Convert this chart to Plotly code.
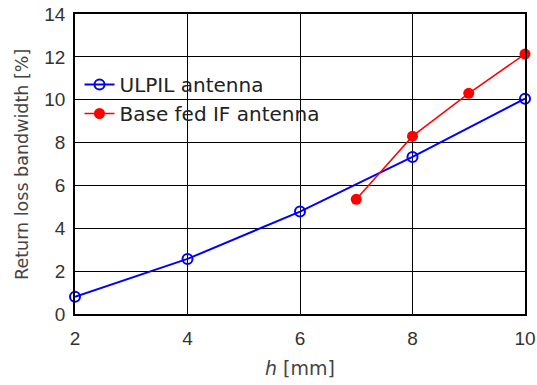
import plotly.graph_objects as go

h_ulpil = [2, 4, 6, 8, 10]
bw_ulpil = [0.8, 2.57, 4.78, 7.33, 10.05]
h_base = [7, 8, 9, 10]
bw_base = [5.35, 8.3, 10.3, 12.13]
x_ticks = [2, 4, 6, 8, 10]
y_ticks = [0, 2, 4, 6, 8, 10, 12, 14]

TICKFONT = "Liberation Sans, Arial, sans-serif"
TEXTFONT = "DejaVu Sans, sans-serif"

fig = go.Figure()
fig.add_trace(go.Scatter(
    x=h_ulpil, y=bw_ulpil, mode="lines+markers", name="ULPIL antenna",
    legendgroup="a",
    line=dict(color="#0000ff", width=2),
    marker=dict(symbol="circle-open", size=10, color="#0000ff", line=dict(width=2)),
))
fig.add_trace(go.Scatter(
    x=h_base, y=bw_base, mode="lines+markers", name="Base fed IF antenna",
    legendgroup="b",
    line=dict(color="#ff0000", width=1.5),
    marker=dict(symbol="circle", size=11, color="#ff0000"),
))

axis_common = dict(
    showgrid=True, gridcolor="black", gridwidth=1,
    showline=True, linecolor="black", linewidth=1.5, mirror=True,
    zeroline=False, ticks="", automargin=False, ticklabeloverflow="allow",
    tickfont=dict(family=TICKFONT, size=19, color="#333333"),
)

fig.update_layout(
    width=537, height=385,
    margin=dict(l=75, r=12, t=14, b=71),
    paper_bgcolor="white", plot_bgcolor="white",
    font=dict(family=TEXTFONT, color="#222222", size=18),
    legend=dict(x=0.01, y=0.83, xanchor="left", yanchor="top",
                bgcolor="rgba(0,0,0,0)", font=dict(family=TEXTFONT, size=20, color="#222222"),
                traceorder="grouped", tracegroupgap=0, itemwidth=30),
    xaxis=dict(range=[2, 10], tickvals=x_ticks, ticklabelstandoff=6, **axis_common),
    yaxis=dict(range=[0, 14], tickvals=y_ticks, ticklabelstandoff=4, **axis_common),
    annotations=[
        dict(text="<i>h</i> [mm]", xref="paper", yref="paper", x=0.5, y=-0.18,
             xanchor="center", yanchor="middle", showarrow=False,
             font=dict(family=TEXTFONT, size=19, color="#444444")),
        dict(text="Return loss bandwidth [%]", xref="paper", yref="paper",
             x=-0.118, y=0.5, xanchor="center", yanchor="middle", textangle=-90,
             showarrow=False, font=dict(family=TEXTFONT, size=17.5, color="#444444")),
    ],
)
fig.update_traces(cliponaxis=False)
fig.write_html(
    "out.html",
    config={"displayModeBar": False},
    post_script="document.body.style.margin='0';document.body.style.overflow='hidden';",
)
